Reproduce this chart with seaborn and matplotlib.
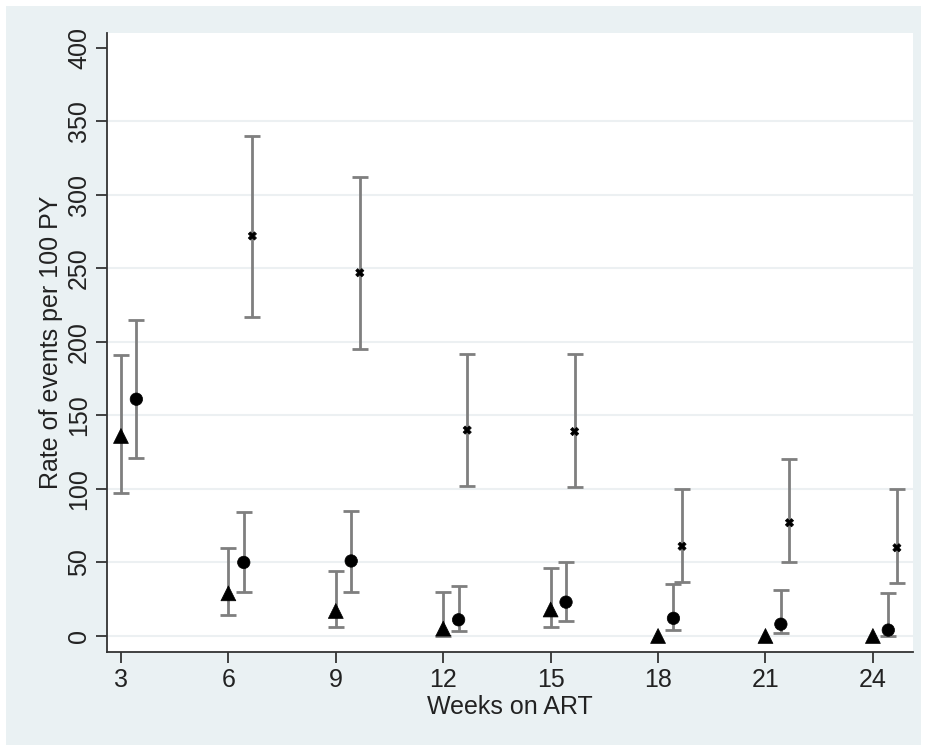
import pandas as pd
import matplotlib.pyplot as plt
import matplotlib.patches as mpatches
import seaborn as sns

# ----------------------------- #
# Data
# ----------------------------- #
weeks = [3, 6, 9, 12, 15, 18, 21, 24]

tri_rate = [136, 29, 17, 5, 18, 0, 0, 0]
tri_lo = [97, 14, 6, 0.3, 6, None, None, None]
tri_hi = [191, 60, 44, 30, 46, None, None, None]

dot_rate = [161, 50, 51, 11, 23, 12, 8, 4]
dot_lo = [121, 30, 30, 3.5, 10, 4, 2, 0.3]
dot_hi = [215, 84, 85, 34, 50, 35, 31, 29]

x_weeks = [6, 9, 12, 15, 18, 21, 24]
x_rate = [272, 247, 140, 139, 61, 77, 60]
x_lo = [217, 195, 102, 101, 37, 50, 36]
x_hi = [340, 312, 192, 192, 100, 120, 100]

frames = [
    pd.DataFrame({"week": weeks, "group": "tri", "rate": tri_rate, "lo": tri_lo, "hi": tri_hi}),
    pd.DataFrame({"week": weeks, "group": "dot", "rate": dot_rate, "lo": dot_lo, "hi": dot_hi}),
    pd.DataFrame({"week": x_weeks, "group": "x", "rate": x_rate, "lo": x_lo, "hi": x_hi}),
]
df = pd.concat(frames, ignore_index=True)

# horizontal shift so the three series sit side by side
shift = {"tri": 0.0, "dot": 0.43, "x": 0.67}
df["xpos"] = df["week"] + df["group"].map(shift)

sns.set_style("white")
plt.rcParams["font.family"] = ["Liberation Sans", "DejaVu Sans"]

bg = "#EAF1F3"
fig = plt.figure(figsize=(9.27, 7.51), dpi=100, facecolor="white")
fig.patches.append(mpatches.Rectangle((6 / 927, 6 / 751), 915 / 927, 739 / 751,
                                      transform=fig.transFigure, facecolor=bg,
                                      edgecolor="none", zorder=-10))
ax = fig.add_axes([107 / 927, 1 - 652 / 751, 806 / 927, 619 / 751])
ax.set_facecolor("white")

# error bars
ci = df.dropna(subset=["lo", "hi"])
ax.errorbar(ci["xpos"], ci["rate"],
            yerr=[ci["rate"] - ci["lo"], ci["hi"] - ci["rate"]],
            fmt="none", ecolor="#7f7f7f", elinewidth=2, capsize=6, capthick=2, zorder=2)

# markers
sns.scatterplot(data=df, x="xpos", y="rate", style="group",
                markers={"tri": "^", "dot": "o", "x": "X"},
                size="group", sizes={"tri": 115, "dot": 80, "x": 35},
                color="black", edgecolor="black", linewidth=0.5,
                legend=False, ax=ax, zorder=3)

ax.set_xlim(2.61, 25.12)
ax.set_ylim(-10.9, 410)
ax.set_xticks(weeks)
ax.set_yticks(range(0, 401, 50))
for v in range(0, 351, 50):
    ax.axhline(v, color="#ECF0F2", linewidth=1.5, zorder=0)

for s in ["top", "right"]:
    ax.spines[s].set_visible(False)
for s in ["left", "bottom"]:
    ax.spines[s].set_color("#333333")
    ax.spines[s].set_linewidth(1.3)

ax.tick_params(axis="both", direction="out", length=8, width=1.3, color="#333333",
               labelsize=18, labelcolor="#222222", left=True, bottom=True)
plt.setp(ax.get_yticklabels(), rotation=90, va="center")

ax.set_xlabel("Weeks on ART", fontsize=18, color="#222222", labelpad=2)
ax.set_ylabel("Rate of events per 100 PY", fontsize=18, color="#222222", labelpad=3)

fig.savefig("out.png", dpi=100, facecolor=fig.get_facecolor())
